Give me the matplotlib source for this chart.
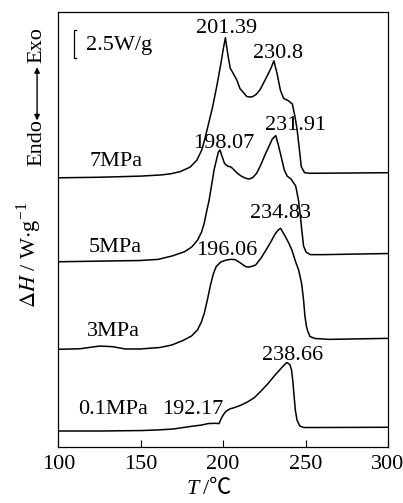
import matplotlib
matplotlib.use("Agg")
import matplotlib.pyplot as plt

plt.rcParams['font.family'] = ['Liberation Serif', 'DejaVu Serif']
plt.rcParams['mathtext.fontset'] = 'stix'
plt.rcParams['font.size'] = 16

# DSC curves, heat flow in W/g (curves shifted vertically for display)
t_7 = [100, 125, 150, 162, 168, 174, 180, 184, 187, 189, 191, 193.5, 196, 198.5,
       200.2, 201.39, 202.0, 203.2, 204.3, 205.5, 208.3, 210.2, 212, 214.3, 216.1,
       217.9, 220.2, 222.6, 224.9, 227.3, 229, 230.8, 232.7, 234.7, 236.7, 239.6,
       242, 243.6, 244.9, 246.5, 247.4, 249.4, 252.7, 300]
h_7 = [23.8, 23.85, 23.95, 24.05, 24.15, 24.35, 24.75, 25.35, 26.25, 27.3, 28.5, 30.0,
       31.8, 33.8, 35.3, 36.2, 35.55, 34.4, 33.5, 33.2, 32.45, 31.7, 31.4, 31.0, 30.95,
       30.98, 31.2, 31.65, 32.3, 32.98, 33.5, 34.16, 33.04, 31.57, 30.83, 30.62,
       30.33, 29.2, 28.03, 26.0, 24.78, 24.25, 24.2, 24.25]

t_5 = [100, 149.6, 160.5, 169, 176.6, 180.9, 184.5, 186.9, 188.5, 189.9, 191.5, 192.9,
       194.5, 195.9, 197.1, 198.07, 199.1, 200.8, 202.6, 204.8, 206.7, 208.7, 210.9,
       213.3, 215.6, 218, 220.4, 222.8, 225.8, 227.9, 229.8, 231.91, 233.5, 235.1,
       237.1, 238.8, 241.2, 244, 245.7, 246.8, 247.7, 248.8, 250.3, 252.9, 261.1, 300]
h_5 = [16.37, 16.48, 16.58, 16.88, 17.26, 17.67, 18.29, 19.0, 19.77, 20.77, 21.83,
       23.07, 24.49, 25.37, 26.08, 26.26, 25.81, 25.08, 24.84, 24.75, 24.49, 24.19,
       23.96, 23.78, 23.69, 23.82, 24.22, 24.93, 25.96, 26.61, 27.23, 27.54, 26.7,
       25.73, 24.49, 23.96, 23.69, 23.08, 21.83, 20.5, 19.18, 17.76, 17.23, 17.0,
       17.0, 17.1]

t_3 = [100, 113.2, 120.5, 125.3, 133.2, 140.5, 149.6, 161.6, 168.8, 175.6, 180.8, 184.4,
       186.8, 188.6, 190.4, 192.2, 194, 195.8, 198.6, 201.8, 204.5, 207, 209.4, 211.4,
       213.5, 215.3, 217.1, 219.7, 223.0, 226.0, 228.9, 231.5, 233.4, 234.83,
       237.8, 239.8, 241.7, 244, 245.8, 247.6, 248.8, 249.6, 250.5, 251.3, 252.7,
       255.7, 264, 300]
h_3 = [8.62, 8.67, 8.82, 8.91, 8.85, 8.65, 8.65, 8.78, 9.0, 9.4, 9.8, 10.33, 11.04,
       11.83, 12.98, 14.22, 15.28, 15.95, 16.35, 16.52, 16.58, 16.57, 16.37, 16.17,
       15.95, 15.9, 15.95, 16.08, 16.7, 17.4, 18.12, 18.82, 19.18, 19.33,
       18.58, 18.03, 17.41, 16.35, 15.64, 14.46, 12.98, 11.57, 10.68, 10.24, 9.75,
       9.58, 9.5, 9.59]

t_01 = [100, 125, 150, 160, 170, 180, 187, 191, 195, 197.5, 198.7, 200.2, 201.7, 204,
        207, 211, 215, 219, 223, 227, 231, 234.5, 237, 238.66, 240.5, 241.5, 242.2,
        243, 243.8, 244.8, 246.5, 249, 260, 300]
h_01 = [1.39, 1.39, 1.43, 1.48, 1.57, 1.79, 1.92, 2.05, 2.07, 2.05, 2.45, 2.85, 3.12,
        3.34, 3.47, 3.69, 3.98, 4.35, 4.93, 5.55, 6.26, 6.83, 7.23, 7.45, 7.27, 6.79,
        5.9, 4.58, 3.25, 2.36, 1.83, 1.70, 1.70, 1.72]

pressures = ['7MPa', '5MPa', '3MPa', '0.1MPa']
label_pos = [(135, 25.2), (134.6, 17.65), (133.2, 10.18), (133.5, 3.25)]

peak_labels = ['201.39', '230.8', '231.91', '198.07', '234.83', '196.06', '238.66', '192.17']
peak_pos = [(201.8, 37.05), (233.0, 34.8), (243.7, 28.47), (200.6, 26.85),
            (235.0, 20.65), (202.3, 17.4), (242.3, 8.1), (181.8, 3.25)]

xticks = [100, 150, 200, 250, 300]

fig = plt.figure(figsize=(4.03, 5.03), dpi=100)
ax = fig.add_axes([0.1447, 0.1119, 0.818, 0.8648])

for t, h in [(t_7, h_7), (t_5, h_5), (t_3, h_3), (t_01, h_01)]:
    ax.plot(t, h, color='black', lw=1.1)

for name, (x, y) in zip(pressures, label_pos):
    ax.text(x, y, name, ha='center', va='center')
for name, (x, y) in zip(peak_labels, peak_pos):
    ax.text(x, y, name, ha='center', va='center')

# 2.5 W/g scale bar
ax.plot([110.5, 109.5, 109.5, 110.5], [36.9, 36.9, 34.4, 34.4], color='black', lw=0.9)
ax.text(116.5, 35.55, '2.5W/g', ha='left', va='center')

ax.set_xlim(100, 300)
ax.set_ylim(0, 38.5)
ax.set_xticks(xticks)
ax.set_yticks([])
ax.tick_params(axis='x', direction='in', length=5, width=0.8, pad=6, labelsize=16)
for s in ax.spines.values():
    s.set_linewidth(0.9)

# x label: italic T, then /℃ (℃ from the CJK font)
fig.text(0.494, 0.026, 'T', style='italic', ha='right', va='center')
fig.text(0.504, 0.026, '/℃', ha='left', va='center',
         family=['Liberation Serif', 'Noto Sans CJK SC'])
fig.text(0.074, 0.493, r'$\Delta H$ / W$\cdot$g$^{\mathregular{-1}}$', rotation=90,
         ha='center', va='center')

# Endo <-> Exo indicator
fig.text(0.092, 0.717, 'Endo', rotation=90, ha='center', va='center')
fig.text(0.092, 0.91, 'Exo', rotation=90, ha='center', va='center')
fig.patches.append(matplotlib.patches.FancyArrowPatch(
    (0.092, 0.755), (0.092, 0.872), transform=fig.transFigure,
    arrowstyle='<|-|>', mutation_scale=8, color='black', lw=1.0))

fig.savefig('out.png', dpi=100)
